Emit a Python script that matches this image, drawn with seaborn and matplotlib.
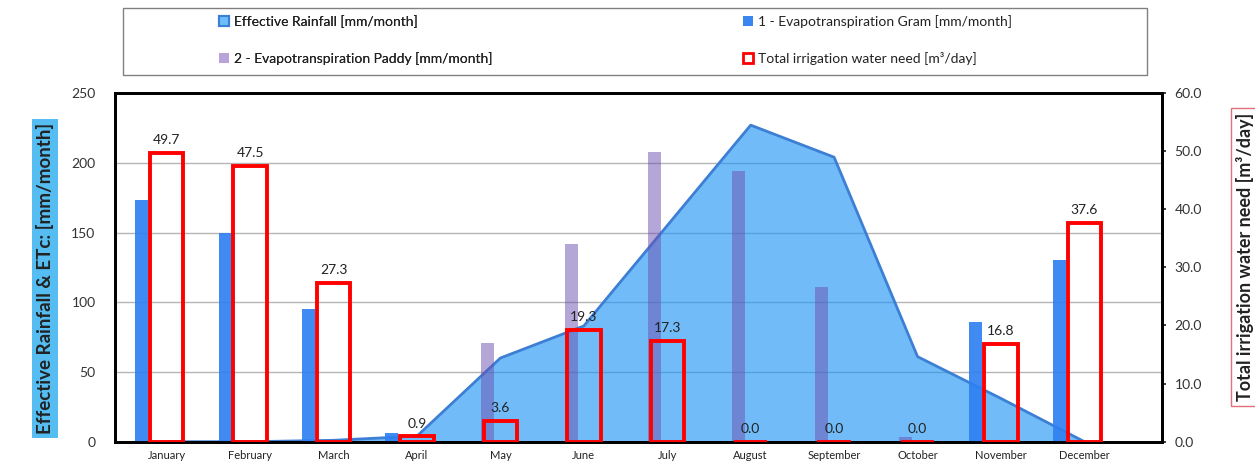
import matplotlib
matplotlib.use("Agg")
import numpy as np
import pandas as pd
import matplotlib.pyplot as plt
from matplotlib.patches import Patch, Rectangle
import seaborn as sns

# Monthly water balance data
months = ["January", "February", "March", "April", "May", "June",
          "July", "August", "September", "October", "November", "December"]
effective_rain = [0, 0, 1, 4, 60, 83, 155, 227, 204, 61, 31, 0]        # mm/month
et_gram = [173, 150, 95, 6, 0, 0, 0, 0, 0, 0, 86, 130]                  # mm/month
et_paddy = [0, 0, 0, 0, 71, 142, 208, 194, 111, 3.5, 0, 0]              # mm/month
irrigation_need = [49.7, 47.5, 27.3, 0.9, 3.6, 19.3, 17.3, 0.0, 0.0, 0.0, 16.8, 37.6]  # m3/day

left_ticks = [0, 50, 100, 150, 200, 250]
right_ticks = [0, 10, 20, 30, 40, 50, 60]

sns.set_theme(style="white")
plt.rcParams["font.family"] = ["Lato", "DejaVu Sans"]

pos = np.arange(len(months))
df = pd.DataFrame({"month": months, "pos": pos, "rain": effective_rain,
                   "gram": et_gram, "paddy": et_paddy, "need": irrigation_need})

fig = plt.figure(figsize=(12.55, 4.63), dpi=100)
ax = fig.add_axes([0.0916, 0.046, 0.8343, 0.753])

# Effective rainfall as a translucent area with an outline
ax.fill_between(df["pos"], df["rain"], color="#1a94f5", alpha=0.62, lw=0, zorder=1)
sns.lineplot(x=df["pos"], y=df["rain"], ax=ax, color="#3d7fd4", lw=2, zorder=2)

# Crop evapotranspiration bars, offset to the left of each month
sns.barplot(x=df["pos"] - 0.30, y=df["gram"], ax=ax, native_scale=True, width=0.155,
            color="#2f80f2", saturation=1, alpha=0.92, linewidth=0, zorder=3, errorbar=None)
sns.barplot(x=df["pos"] - 0.15, y=df["paddy"], ax=ax, native_scale=True, width=0.155,
            color="#6a4fb0", saturation=1, alpha=0.5, linewidth=0, zorder=3, errorbar=None)

ax.set_ylim(0, 250)
ax.set_yticks(left_ticks)
ax.yaxis.grid(True, color="#b5b5b5", lw=1)
ax.set_axisbelow(True)

# Irrigation need on the secondary axis, hollow red bars
ax2 = ax.twinx()
sns.barplot(x=df["pos"], y=df["need"], ax=ax2, native_scale=True, width=0.4,
            fill=False, color="red", linewidth=2.8, zorder=5, errorbar=None)
ax2.set_ylim(0, 60)
ax2.set_yticks(right_ticks)
ax2.set_yticklabels([f"{t:.1f}" for t in right_ticks])
for xp, v in zip(df["pos"], df["need"]):
    ax2.annotate(f"{v:.1f}", xy=(xp, v), xytext=(0, 5), textcoords="offset points",
                 ha="center", va="bottom", fontsize=10, color="#222222")

for a in (ax, ax2):
    a.set_xlim(-0.62, 11.93)
    for s in a.spines.values():
        s.set_visible(True)
        s.set_color("black")
        s.set_linewidth(2)

ax.set_xticks(pos)
ax.set_xticklabels(months, fontsize=8, color="#222222")
ax.tick_params(axis="x", length=0, pad=6)
ax.tick_params(axis="y", length=0, pad=14, labelsize=10, labelcolor="#333333")
ax2.tick_params(axis="y", length=3, pad=6, labelsize=10, labelcolor="#333333")
ax.set_xlabel("")

ax.set_ylabel("Effective Rainfall & ETc: [mm/month]", fontsize=13.5, fontweight="bold",
              color="#222222",
              bbox=dict(boxstyle="square,pad=0.2", fc="#55bdf2", ec="none"))
ax.yaxis.set_label_coords(-0.058, 0.468)
ax2.set_ylabel("Total irrigation water need [m³/day]", fontsize=13, fontweight="bold",
               color="#222222", rotation=90,
               bbox=dict(boxstyle="square,pad=0.25", fc="white", ec="#e0707a", lw=1))
ax2.yaxis.set_label_coords(1.0705, 0.53)

# Legend frame and two legend columns
fig.add_artist(Rectangle((123 / 1255, 1 - 75 / 463), (1147 - 123) / 1255, 67 / 463,
                         transform=fig.transFigure, fill=False, ec="#808080", lw=1))
h_rain = Patch(fc="#6ebefa", ec="#3d7fd4", lw=1.5, label="Effective Rainfall [mm/month]")
h_paddy = Patch(fc="#b9a3da", ec="none", label="2 - Evapotranspiration Paddy [mm/month]")
h_gram = Patch(fc="#3a86f0", ec="none", label="1 - Evapotranspiration Gram [mm/month]")
h_need = Patch(fc="white", ec="red", lw=2, label="Total irrigation water need [m³/day]")
leg_kw = dict(frameon=False, loc="center left", fontsize=10, handlelength=0.7,
              handleheight=0.7, handletextpad=0.4, labelspacing=1.75,
              borderpad=0, borderaxespad=0, labelcolor="#222222")
leg1 = fig.legend(handles=[h_rain, h_paddy], bbox_to_anchor=(219 / 1255, 1 - 40 / 463), **leg_kw)
fig.add_artist(leg1)
fig.legend(handles=[h_gram, h_need], bbox_to_anchor=(743 / 1255, 1 - 40 / 463), **leg_kw)

fig.savefig("out.png", dpi=100)
